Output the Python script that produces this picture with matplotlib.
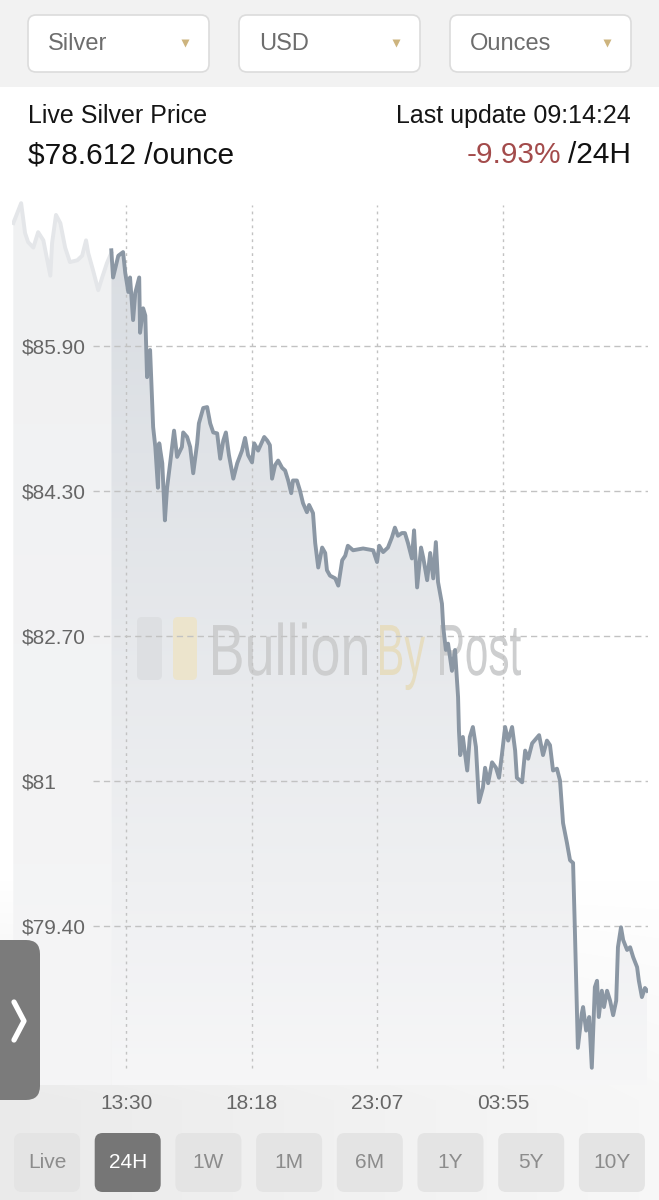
import numpy as np
import matplotlib.pyplot as plt
from matplotlib.patches import FancyBboxPatch, Polygon, PathPatch, Rectangle
from matplotlib.textpath import TextPath
from matplotlib.font_manager import FontProperties
from matplotlib.transforms import Affine2D
from matplotlib.colors import LinearSegmentedColormap

plt.rcParams['font.family'] = ['Liberation Sans', 'DejaVu Sans']

# ---- data ----
# part of the curve before the 24h window (drawn faded)
pre_times = ["09:11", "09:29", "09:38", "09:45", "09:57", "10:08", "10:20", "10:36",
             "10:40", "10:49", "10:59", "11:10", "11:21", "11:38", "11:49", "11:58",
             "12:03", "12:14", "12:26", "12:35", "12:46", "12:56"]
pre_prices = [87.26, 87.48, 87.15, 87.05, 86.99, 87.16, 87.07, 86.68,
              87.04, 87.35, 87.26, 86.99, 86.83, 86.85, 86.90, 87.07,
              86.93, 86.74, 86.52, 86.66, 86.82, 86.93]

# 24h window
times = ["12:56", "13:00", "13:12", "13:23", "13:28", "13:35", "13:39", "13:46", "13:51", "14:00",
         "14:02", "14:09", "14:14", "14:18", "14:25", "14:32", "14:37", "14:43", "14:46", "14:53",
         "14:59", "15:04", "15:11", "15:20", "15:27", "15:38", "15:41", "15:50", "15:57", "16:04",
         "16:13", "16:17", "16:27", "16:36", "16:43", "16:50", "16:59", "17:06", "17:13", "17:19",
         "17:26", "17:36", "17:45", "17:56", "18:03", "18:10", "18:19", "18:24", "18:33", "18:47",
         "18:54", "19:00", "19:05", "19:12", "19:19", "19:28", "19:35", "19:42", "19:49", "19:53",
         "20:02", "20:09", "20:16", "20:25", "20:30", "20:39", "20:44", "20:51", "21:00", "21:07",
         "21:11", "21:18", "21:30", "21:37", "21:46", "21:53", "21:59", "22:11", "22:34", "22:57",
         "23:06", "23:11", "23:20", "23:31", "23:40", "23:47", "23:54", "00:03", "00:10", "00:17",
         "00:26", "00:31", "00:38", "00:47", "00:52", "01:01", "01:08", "01:15", "01:21", "01:26",
         "01:35", "01:38", "01:44", "01:49", "01:58", "02:05", "02:12", "02:14", "02:17", "02:23",
         "02:33", "02:39", "02:46", "02:53", "03:00", "03:09", "03:14", "03:21", "03:30", "03:39",
         "03:46", "03:53", "04:00", "04:07", "04:16", "04:23", "04:27", "04:39", "04:46", "04:53",
         "05:02", "05:11", "05:18", "05:27", "05:36", "05:43", "05:50", "05:59", "06:06", "06:13",
         "06:22", "06:29", "06:36", "06:40", "06:43", "06:47", "06:56", "06:59", "07:06", "07:13",
         "07:19", "07:26", "07:31", "07:35", "07:42", "07:47", "07:54", "08:01", "08:08", "08:15",
         "08:19", "08:26", "08:31", "08:40", "08:47", "08:54", "09:03", "09:07", "09:14", "09:21",
         "09:26"]
prices = [86.96, 86.66, 86.90, 86.94, 86.71, 86.50, 86.66, 86.19, 86.49, 86.66,
          86.05, 86.32, 86.24, 85.56, 85.86, 85.01, 84.79, 84.34, 84.83, 84.61,
          83.98, 84.34, 84.61, 84.97, 84.68, 84.79, 84.95, 84.90, 84.79, 84.50,
          84.83, 85.05, 85.22, 85.23, 85.05, 84.95, 84.94, 84.66, 84.86, 84.95,
          84.70, 84.44, 84.61, 84.75, 84.89, 84.70, 84.62, 84.83, 84.75, 84.90,
          84.86, 84.81, 84.44, 84.59, 84.64, 84.56, 84.53, 84.42, 84.28, 84.42,
          84.42, 84.31, 84.17, 84.07, 84.15, 84.06, 83.73, 83.46, 83.68, 83.62,
          83.43, 83.37, 83.34, 83.26, 83.54, 83.59, 83.70, 83.65, 83.67, 83.65,
          83.52, 83.70, 83.63, 83.68, 83.79, 83.90, 83.81, 83.84, 83.84, 83.73,
          83.56, 83.87, 83.24, 83.68, 83.57, 83.32, 83.62, 83.34, 83.74, 83.30,
          83.06, 82.80, 82.55, 82.62, 82.32, 82.55, 82.03, 81.66, 81.39, 81.59,
          81.22, 81.59, 81.70, 81.48, 80.87, 81.03, 81.25, 81.08, 81.31, 81.25,
          81.14, 81.41, 81.70, 81.55, 81.70, 81.44, 81.14, 81.09, 81.44, 81.35,
          81.52, 81.57, 81.61, 81.39, 81.55, 81.50, 81.22, 81.24, 81.11, 80.64,
          80.42, 80.23, 80.20, 79.49, 78.90, 78.16, 78.54, 78.61, 78.35, 78.50,
          77.94, 78.83, 78.90, 78.50, 78.79, 78.61, 78.79, 78.68, 78.52, 78.68,
          79.27, 79.49, 79.35, 79.24, 79.27, 79.16, 79.05, 78.90, 78.72, 78.82,
          78.79]

y_ticks = [85.9, 84.3, 82.7, 81.1, 79.5]
y_tick_labels = ["$85.90", "$84.30", "$82.70", "$81", "$79.40"]
x_tick_labels = ["13:30", "18:18", "23:07", "03:55"]

selectors = ["Silver", "USD", "Ounces"]
ranges = ["Live", "24H", "1W", "1M", "6M", "1Y", "5Y", "10Y"]
active_range = "24H"
title_left = "Live Silver Price"
price_now = "$78.612 /ounce"
last_update = "Last update 09:14:24"
change = "-9.93%"
change_period = "/24H"


def to_hours(stamps):
    # HH:MM -> hours, rolling over midnight
    out = []
    day = 0
    for s in stamps:
        hh, mm = s.split(":")
        v = int(hh) + int(mm) / 60 + day
        if out and v < out[-1] - 12:
            day += 24
            v += 24
        out.append(v)
    return np.array(out)


t_pre = to_hours(pre_times)
p_pre = np.array(pre_prices)
t_main = to_hours(times)
p_main = np.array(prices)
x_ticks = to_hours(x_tick_labels)

W, H = 659, 1200
fig = plt.figure(figsize=(W / 100, H / 100), dpi=100)
fig.patch.set_facecolor('white')


def px_rect(l, t, r, b):
    return [l / W, 1 - b / H, (r - l) / W, (b - t) / H]


# background layer
bg = fig.add_axes([0, 0, 1, 1], zorder=0)
bg.set_xlim(0, W)
bg.set_ylim(H, 0)
bg.axis('off')
bg.add_patch(Rectangle((0, 0), W, 87, color='#f2f2f2', lw=0))
yy, xx = np.mgrid[880:1200, 0:W]
w = np.clip((yy - 880) / 220, 0, 1) * (0.95 - 0.6 * xx / W)
shade = 1 - w * 0.085
bg.imshow(np.dstack([shade, shade, shade]), extent=(0, W, 1200, 880),
          origin='upper', aspect='auto', interpolation='bilinear')

# chart
ax = fig.add_axes(px_rect(12, 195, 648, 1085), zorder=1)
ax.patch.set_alpha(0)
y_lo, y_hi = 77.75, 87.57
x_lo, x_hi = 9 + 8 / 60, 33 + 28 / 60

grad = np.linspace(0, 1, 256).reshape(-1, 1)


def gradient_fill(t, p, c_bottom, c_top, z):
    cmap = LinearSegmentedColormap.from_list('g', [c_bottom, c_top])
    im = ax.imshow(grad, extent=(t.min(), t.max(), y_lo, p.max()), origin='lower',
                   aspect='auto', cmap=cmap, zorder=z, interpolation='bilinear')
    verts = np.column_stack([np.r_[t[0], t, t[-1]], np.r_[y_lo, p, y_lo]])
    poly = Polygon(verts, closed=True, facecolor='none', edgecolor='none')
    ax.add_patch(poly)
    im.set_clip_path(poly)


gradient_fill(t_pre, p_pre, '#f5f5f6', '#f0f1f2', 0.4)
gradient_fill(t_main, p_main, '#f6f6f7', '#d9dde2', 0.5)

# watermark (drawn in pixel space of the overlay)
fg = fig.add_axes([0, 0, 1, 1], zorder=3)
fg.set_xlim(0, W)
fg.set_ylim(H, 0)
fg.axis('off')
fg.patch.set_alpha(0)

ax.add_patch(FancyBboxPatch((137, 617), 25, 63, boxstyle='round,pad=0,rounding_size=5',
                            fc='#dddfe2', ec='none', transform=fg.transData, zorder=0.8))
ax.add_patch(FancyBboxPatch((173, 617), 24, 63, boxstyle='round,pad=0,rounding_size=5',
                            fc='#ece4cc', ec='none', transform=fg.transData, zorder=0.8))
wm_font = FontProperties(family='Liberation Sans')
for word, x0, x1, col in [("Bullion", 213, 367, '#cdcecf'),
                          ("By", 380, 425, '#e6ddc1'),
                          ("Post", 440, 521, '#cdcecf')]:
    tp = TextPath((0, 0), word, size=1, prop=wm_font)
    ext = tp.get_extents()
    sx = (x1 - x0) / ext.width
    sy = 72.6
    tr = Affine2D().translate(-ext.x0, 0).scale(sx, -sy).translate(x0, 675)
    ax.add_patch(PathPatch(tr.transform_path(tp), fc=col, ec='none',
                           transform=fg.transData, zorder=0.8))

# grid
for yv in y_ticks:
    ax.axhline(yv, xmin=(93 - 12) / 636, xmax=1, color='#c2c2c2', lw=1.0,
               dashes=(4.5, 3), zorder=1)
for xv in x_ticks:
    ax.axvline(xv, ymin=(1085 - 1068) / 890, ymax=(1085 - 205) / 890, color='#c2c2c2',
               lw=1.0, dashes=(2, 3), zorder=1)

ax.plot(t_pre, p_pre, color='#e4e6e9', lw=2.8, solid_joinstyle='round', zorder=2)
ax.plot(t_main, p_main, color='#8b97a4', lw=2.8, solid_joinstyle='round', zorder=2.1)

ax.set_xlim(x_lo, x_hi)
ax.set_ylim(y_lo, y_hi)
for s in ax.spines.values():
    s.set_visible(False)
ax.set_yticks(y_ticks, y_tick_labels)
ax.set_xticks(x_ticks, x_tick_labels)
ax.tick_params(axis='y', length=0, pad=-7.2, labelsize=15, labelcolor='#666666')
ax.tick_params(axis='x', length=0, pad=6.5, labelsize=15, labelcolor='#666666')
for lbl in ax.get_yticklabels():
    lbl.set_horizontalalignment('left')

# top selectors
for i, name in enumerate(selectors):
    bx = 28 + i * 211
    fg.add_patch(FancyBboxPatch((bx, 15), 181, 57, boxstyle='round,pad=0,rounding_size=8',
                                fc='white', ec='#dcdcdc', lw=1.2))
    fg.text(bx + 20, 44, name, ha='left', va='center', fontsize=17, color='#6d6d6d')
    fg.plot(bx + 157, 43, marker='v', ms=5.5, color='#cdb47e', mec='none')

# header
fg.text(28, 116, title_left, ha='left', va='center', fontsize=18, color='#151515')
fg.text(631, 116, last_update, ha='right', va='center', fontsize=18, color='#151515')
fg.text(28, 155, price_now, ha='left', va='center', fontsize=21.5, color='#111111')
t24 = fg.text(631, 155, change_period, ha='right', va='center', fontsize=21.5, color='#111111')
fig.canvas.draw()
bb = t24.get_window_extent()
fg.text(bb.x0 - 7, 155, change, ha='right', va='center', fontsize=21.5, color='#a34b4b')

# range buttons
for i, r in enumerate(ranges):
    bx = 14 + i * 80.7
    on = r == active_range
    fg.add_patch(FancyBboxPatch((bx, 1133), 66, 59, boxstyle='round,pad=0,rounding_size=8',
                                fc='#767676' if on else '#e4e4e4', ec='none'))
    fg.text(bx + 33, 1163, r, ha='center', va='center', fontsize=15,
            color='white' if on else '#8c8c8c')

# side tab
fg.add_patch(FancyBboxPatch((-20, 940), 60, 160, boxstyle='round,pad=0,rounding_size=14',
                            fc='#7b7b7b', ec='none'))
fg.plot([14, 24, 14], [1002, 1021, 1040], color='white', lw=3.8,
        solid_capstyle='round', solid_joinstyle='round')

fig.savefig('out.png', dpi=100)
